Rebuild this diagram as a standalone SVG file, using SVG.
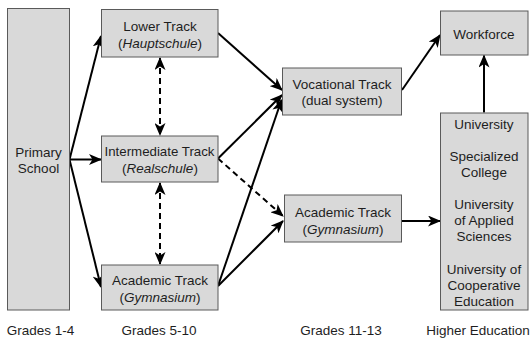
<svg xmlns="http://www.w3.org/2000/svg" width="530" height="340" viewBox="0 0 530 340">
<style>
.box{fill:#d9d9d9;stroke:#5a5a5a;stroke-width:1}
text{font-family:"Liberation Sans",Arial,sans-serif;font-size:13.5px;fill:#1e1e1e;text-anchor:middle}
.it{font-style:italic}
.ln{fill:none;stroke:#000;stroke-width:2}
.da{stroke-dasharray:6,4}
</style>
<defs>
<marker id="ah" viewBox="0 0 13 11" markerWidth="13" markerHeight="11" refX="12" refY="5.5" orient="auto" markerUnits="userSpaceOnUse">
<path d="M0,0 L13,5.5 L0,11 L3.5,5.5 z" fill="#000"/>
</marker>
<marker id="as" viewBox="0 0 13 11" markerWidth="13" markerHeight="11" refX="12" refY="5.5" orient="auto-start-reverse" markerUnits="userSpaceOnUse">
<path d="M0,0 L13,5.5 L0,11 L3.5,5.5 z" fill="#000"/>
</marker>
</defs>
<rect width="530" height="340" fill="#fff"/>
<g id="connectors">
<line class="ln" x1="69.5" y1="159.5" x2="101" y2="36" marker-end="url(#ah)"/>
<line class="ln" x1="69.5" y1="159.5" x2="101" y2="159.5" marker-end="url(#ah)"/>
<line class="ln" x1="69.5" y1="159.5" x2="101" y2="287" marker-end="url(#ah)"/>
<line class="ln da" x1="160" y1="58" x2="160" y2="135" marker-start="url(#as)" marker-end="url(#ah)"/>
<line class="ln da" x1="160" y1="183" x2="160" y2="264" marker-start="url(#as)" marker-end="url(#ah)"/>
<line class="ln" x1="218" y1="33" x2="282" y2="90" marker-end="url(#ah)"/>
<line class="ln" x1="218" y1="158.5" x2="282" y2="95" marker-end="url(#ah)"/>
<line class="ln" x1="218" y1="286" x2="281.5" y2="100" marker-end="url(#ah)"/>
<line class="ln" x1="218" y1="286" x2="283" y2="221" marker-end="url(#ah)"/>
<line class="ln da" x1="218" y1="158.5" x2="283" y2="216" marker-end="url(#ah)"/>
<line class="ln" x1="402" y1="221" x2="440" y2="221" marker-end="url(#ah)"/>
<line class="ln" x1="402" y1="90" x2="440" y2="35" marker-end="url(#ah)"/>
<line class="ln" x1="484" y1="112.5" x2="484" y2="55.5" marker-end="url(#ah)"/>
</g>
<g id="primary">
<rect class="box" x="7.5" y="8.5" width="62" height="301.5"/>
<text x="38.5" y="156.5">Primary</text>
<text x="38.5" y="173">School</text>
</g>
<g id="lower">
<rect class="box" x="101.5" y="9.5" width="116.5" height="47.5"/>
<text x="160" y="30.5">Lower Track</text>
<text x="160" y="48">(<tspan class="it">Hauptschule</tspan>)</text>
</g>
<g id="intermediate">
<rect class="box" x="101.5" y="136" width="116.5" height="46"/>
<text x="159.5" y="156" textLength="110" lengthAdjust="spacingAndGlyphs">Intermediate Track</text>
<text x="160" y="173">(<tspan class="it">Realschule</tspan>)</text>
</g>
<g id="academic1">
<rect class="box" x="101.5" y="265" width="116.5" height="45"/>
<text x="160" y="285">Academic Track</text>
<text x="160" y="301.5">(<tspan class="it">Gymnasium</tspan>)</text>
</g>
<g id="vocational">
<rect class="box" x="282.5" y="68" width="119" height="47"/>
<text x="342" y="88.5">Vocational Track</text>
<text x="342" y="105">(dual system)</text>
</g>
<g id="academic2">
<rect class="box" x="284.5" y="195" width="117" height="47"/>
<text x="343" y="216.5">Academic Track</text>
<text x="343" y="233.5">(<tspan class="it">Gymnasium</tspan>)</text>
</g>
<g id="workforce">
<rect class="box" x="440.5" y="11" width="87.5" height="44"/>
<text x="484" y="38.5">Workforce</text>
</g>
<g id="higher">
<rect class="box" x="440.5" y="113" width="87.5" height="197"/>
<text x="484" y="128.5">University</text>
<text x="484" y="160.5">Specialized</text>
<text x="484" y="177">College</text>
<text x="484" y="208.5">University</text>
<text x="484" y="225">of Applied</text>
<text x="484" y="241">Sciences</text>
<text x="484" y="274">University of</text>
<text x="484" y="290">Cooperative</text>
<text x="484" y="306">Education</text>
</g>
<g id="labels">
<text x="40.5" y="334.5">Grades 1-4</text>
<text x="159" y="334.5">Grades 5-10</text>
<text x="341" y="334.5">Grades 11-13</text>
<text x="478" y="334.5">Higher Education</text>
</g>
</svg>
